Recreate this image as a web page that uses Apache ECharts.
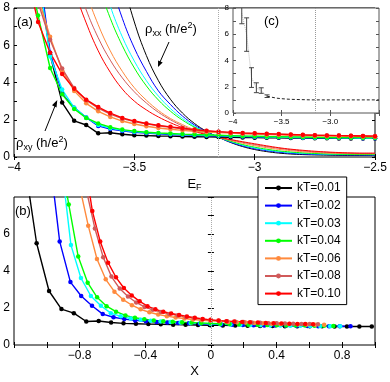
<!DOCTYPE html>
<html>
<head>
<meta charset="utf-8">
<script src="https://cdn.jsdelivr.net/npm/echarts@6/dist/echarts.min.js"></script>
<style>
html, body { margin: 0; padding: 0; background: #fff; }
#chart { width: 390px; height: 382px; }
</style>
</head>
<body>
<div id="chart"></div>
<script>
// temperatures and colours (legend order)
var kTs = ['0.01', '0.02', '0.03', '0.04', '0.06', '0.08', '0.10'];
var colors = ['#000000', '#0000ff', '#00ffff', '#00ff00', '#ff8a3d', '#d05a5a', '#ff0000'];

// E_F sample points shared by every curve of panel (a)
var efGrid = [-3.95, -3.90, -3.85, -3.80, -3.75, -3.70, -3.65, -3.60, -3.55, -3.50,
  -3.45, -3.40, -3.35, -3.30, -3.25, -3.20, -3.15, -3.10, -3.05, -3.00,
  -2.95, -2.90, -2.85, -2.80, -2.75, -2.70, -2.65, -2.60, -2.55, -2.50];

// rho_xy (h/e^2), with markers
var rhoXy01 = [14, 10, 5.5, 2.92, 1.94, 1.72, 1.27, 1.3, 1.22, 1.17, 1.15, 1.13, 1.12, 1.1, 1.09, 1.08, 1.07, 1.06, 1.05, 1.04, 1.03, 1.03, 1.02, 1.02, 1.01, 1.01, 1.0, 1.0, 1.0, 1.0];
var rhoXy02 = [16, 10.5, 5.6, 3.4, 2.65, 2.12, 1.67, 1.5, 1.4, 1.33, 1.28, 1.24, 1.21, 1.19, 1.17, 1.15, 1.13, 1.11, 1.1, 1.08, 1.07, 1.06, 1.05, 1.04, 1.03, 1.03, 1.02, 1.02, 1.01, 1.01];
var rhoXy03 = [16, 10, 5.4, 3.62, 2.65, 2.12, 1.72, 1.55, 1.43, 1.36, 1.31, 1.27, 1.24, 1.21, 1.19, 1.17, 1.15, 1.13, 1.11, 1.1, 1.08, 1.07, 1.06, 1.05, 1.04, 1.04, 1.03, 1.03, 1.02, 1.02];
var rhoXy04 = [10.5, 7.6, 4.78, 3.37, 2.58, 2.1, 1.8, 1.6, 1.47, 1.39, 1.33, 1.29, 1.26, 1.23, 1.21, 1.19, 1.17, 1.15, 1.13, 1.12, 1.1, 1.09, 1.08, 1.07, 1.06, 1.05, 1.05, 1.04, 1.04, 1.03];
var rhoXy06 = [12, 8.6, 6.45, 4.65, 3.55, 2.88, 2.45, 2.15, 1.93, 1.77, 1.65, 1.56, 1.49, 1.43, 1.38, 1.34, 1.31, 1.28, 1.25, 1.23, 1.21, 1.19, 1.17, 1.15, 1.14, 1.13, 1.12, 1.11, 1.1, 1.09];
var rhoXy08 = [12, 8.3, 6.3, 4.75, 3.7, 3.05, 2.62, 2.3, 2.06, 1.9, 1.78, 1.68, 1.6, 1.52, 1.45, 1.39, 1.35, 1.31, 1.28, 1.26, 1.24, 1.22, 1.2, 1.18, 1.17, 1.16, 1.15, 1.14, 1.13, 1.12];
var rhoXy10 = [10, 7.25, 5.6, 4.45, 3.66, 3.08, 2.68, 2.36, 2.1, 1.93, 1.8, 1.7, 1.62, 1.54, 1.47, 1.41, 1.36, 1.32, 1.29, 1.27, 1.25, 1.23, 1.21, 1.19, 1.17, 1.16, 1.15, 1.14, 1.13, 1.12];

// rho_xx (h/e^2), plain lines (null = above the plot)
var rhoXx01 = [null, null, null, null, null, null, null, 12.7, 9.6, 7.25, 5.45, 4.1, 3.1, 2.36, 1.8, 1.38, 1.06, 0.78, 0.56, 0.4, 0.29, 0.21, 0.16, 0.13, 0.11, 0.1, 0.09, 0.085, 0.08, 0.08];
var rhoXx02 = [null, null, null, null, null, null, 12.1, 9.5, 7.45, 5.85, 4.6, 3.55, 2.82, 2.2, 1.72, 1.35, 1.06, 0.8, 0.6, 0.45, 0.34, 0.26, 0.2, 0.16, 0.14, 0.125, 0.115, 0.11, 0.105, 0.1];
var rhoXx03 = [null, null, null, null, null, 12.8, 10.2, 8.1, 6.45, 5.15, 4.1, 3.27, 2.6, 2.07, 1.65, 1.32, 1.06, 0.83, 0.64, 0.49, 0.38, 0.3, 0.24, 0.2, 0.17, 0.15, 0.14, 0.13, 0.125, 0.12];
var rhoXx04 = [null, null, null, null, null, 11.6, 9.3, 7.45, 5.98, 4.78, 3.82, 3.06, 2.46, 1.98, 1.6, 1.3, 1.06, 0.85, 0.67, 0.53, 0.42, 0.33, 0.27, 0.22, 0.19, 0.17, 0.15, 0.14, 0.135, 0.13];
var rhoXx06 = [null, null, null, null, 11, 8.85, 7.1, 5.7, 4.6, 3.72, 3.05, 2.5, 2.07, 1.74, 1.46, 1.24, 1.06, 0.89, 0.74, 0.61, 0.5, 0.41, 0.34, 0.28, 0.24, 0.21, 0.19, 0.18, 0.17, 0.17];
var rhoXx08 = [null, null, null, null, 9.8, 7.9, 6.4, 5.2, 4.25, 3.5, 2.9, 2.4, 2.0, 1.67, 1.42, 1.22, 1.06, 0.92, 0.79, 0.67, 0.56, 0.47, 0.39, 0.33, 0.28, 0.25, 0.22, 0.2, 0.19, 0.19];
var rhoXx10 = [null, null, null, 11.3, 9.0, 7.2, 5.7, 4.55, 3.65, 3.0, 2.53, 2.15, 1.84, 1.58, 1.37, 1.2, 1.06, 0.94, 0.82, 0.71, 0.6, 0.5, 0.42, 0.36, 0.31, 0.27, 0.24, 0.22, 0.21, 0.21];

// panel (b): X = s_kT * (E_F - Ec), s
var ecCrit = -3.148;
var scaleB = [1.513, 1.313, 1.215, 1.152, 1.065, 1.007, 0.961];

// inset (c): error bars [E_F, low, high] and the mean curve
var barData = [[-3.91, 6.8, 9.0], [-3.86, 4.7, 7.25], [-3.81, 1.95, 3.45], [-3.76, 1.55, 2.3], [-3.71, 1.5, 1.92], [-3.65, 1.18, 1.38]];
var meanEf = [-3.91, -3.86, -3.81, -3.76, -3.71, -3.65];
var meanVal = [7.6, 6.0, 2.7, 1.9, 1.7, 1.28];
var tailEf = [-3.65, -3.60, -3.55, -3.50, -3.45, -3.40, -3.35, -3.30, -3.25, -3.20, -3.15, -3.10, -3.00, -2.90, -2.80, -2.70, -2.60, -2.50];
var tailVal = [1.28, 1.2, 1.13, 1.09, 1.06, 1.04, 1.03, 1.02, 1.01, 1.0, 1.0, 1.0, 1.0, 1.0, 1.0, 1.0, 1.0, 1.0];

var rhoXy = [rhoXy01, rhoXy02, rhoXy03, rhoXy04, rhoXy06, rhoXy08, rhoXy10];
var rhoXx = [rhoXx01, rhoXx02, rhoXx03, rhoXx04, rhoXx06, rhoXx08, rhoXx10];

var FONT = '"Liberation Sans", Arial, Helvetica, sans-serif';

function minus(v) { return String(v).replace('-', '\u2212'); }

function pairs(xs, ys) {
  var out = [];
  for (var i = 0; i < xs.length; i++) {
    if (ys[i] !== null) out.push([xs[i], ys[i]]);
  }
  return out;
}

function axis(gi, pos, min, max, interval, fmt, col, fs) {
  var primary = (pos === 'bottom' || pos === 'left');
  return {
    type: 'value', gridIndex: gi, position: pos, min: min, max: max, interval: interval,
    axisLine: { show: false },
    splitLine: { show: false },
    axisTick: { show: true, inside: true, length: 3, lineStyle: { color: col, width: 1 } },
    axisLabel: {
      show: primary, margin: pos === 'bottom' ? 5 : 4, color: '#000',
      fontSize: fs, fontFamily: FONT, formatter: fmt,
      showMinLabel: true, showMaxLabel: true
    },
    z: gi === 2 ? 4 : 0
  };
}

var evenOnly = function (v) { return (Math.round(v) % 2 === 0 && v < 8.01) ? String(v) : ''; };
var evenNo8 = function (v) { return (Math.round(v) % 2 === 0 && v < 7.99) ? String(v) : ''; };
var bLabels = function (v) {
  var r = Math.round(v * 10) / 10;
  return [-0.8, -0.4, 0, 0.4, 0.8].indexOf(r) >= 0 ? minus(r) : '';
};
var insetX = function (v) {
  if (v === -4) return '\u22124';
  if (v === -2.5) return '';
  return '\u2212' + Math.abs(v).toFixed(1);
};

var series = [];

// panel (a) rho_xx
for (var i = 0; i < kTs.length; i++) {
  series.push({
    name: 'xx' + kTs[i], type: 'line', xAxisIndex: 0, yAxisIndex: 0,
    data: pairs(efGrid, rhoXx[i]), showSymbol: false, smooth: 0.4,
    lineStyle: { color: colors[i], width: 1 }, itemStyle: { color: colors[i] },
    clip: true, silent: true, z: 2
  });
}
// panel (a) rho_xy
for (var i = 0; i < kTs.length; i++) {
  series.push({
    name: 'xy' + kTs[i], type: 'line', xAxisIndex: 0, yAxisIndex: 0,
    data: pairs(efGrid, rhoXy[i]), symbol: 'circle', symbolSize: 4.5, showAllSymbol: true,
    lineStyle: { color: colors[i], width: 1.4 }, itemStyle: { color: colors[i] },
    clip: true, silent: true, z: 3
  });
}
// dotted critical lines
series.push({
  type: 'line', xAxisIndex: 0, yAxisIndex: 0, data: [], silent: true,
  markLine: { symbol: 'none', silent: true, label: { show: false },
    lineStyle: { color: '#aaa', type: 'dotted', width: 1 }, data: [{ xAxis: -3.152 }] }
});

// panel (b)
for (var i = 0; i < kTs.length; i++) {
  var xs = efGrid.map(function (e) { return scaleB[i] * (e - ecCrit); });
  series.push({
    name: 'kT=' + kTs[i], type: 'line', xAxisIndex: 2, yAxisIndex: 2,
    data: pairs(xs, rhoXy[i]), symbol: 'circle', symbolSize: 4.5, showAllSymbol: true,
    lineStyle: { color: colors[i], width: 1.4 }, itemStyle: { color: colors[i] },
    clip: true, silent: true, z: 3
  });
}
series.push({
  type: 'line', xAxisIndex: 2, yAxisIndex: 2, data: [], silent: true,
  markLine: { symbol: 'none', silent: true, label: { show: false },
    lineStyle: { color: '#aaa', type: 'dotted', width: 1 }, data: [{ xAxis: 0 }] }
});

// inset (c)
series.push({
  type: 'line', xAxisIndex: 4, yAxisIndex: 4, data: pairs(meanEf, meanVal),
  showSymbol: false, lineStyle: { color: '#bbb', type: 'dotted', width: 1 }, silent: true, z: 5
});
series.push({
  type: 'line', xAxisIndex: 4, yAxisIndex: 4, data: pairs(tailEf, tailVal),
  showSymbol: false, lineStyle: { color: '#222', type: [3, 2], width: 1 }, silent: true, z: 5,
  markLine: { symbol: 'none', silent: true, label: { show: false },
    lineStyle: { color: '#999', type: 'dotted', width: 1 }, data: [{ xAxis: -3.152 }] }
});
series.push({
  type: 'custom', xAxisIndex: 4, yAxisIndex: 4, data: barData, silent: true, z: 6,
  renderItem: function (params, api) {
    var x = api.value(0), lo = api.value(1), hi = api.value(2);
    var top = api.coord([x, Math.min(hi, 8)]);
    var bot = api.coord([x, lo]);
    var w = 2.5;
    var kids = [
      { type: 'line', shape: { x1: top[0], y1: top[1], x2: bot[0], y2: bot[1] }, style: { stroke: '#444', lineWidth: 1 } },
      { type: 'line', shape: { x1: bot[0] - w, y1: bot[1], x2: bot[0] + w, y2: bot[1] }, style: { stroke: '#444', lineWidth: 1 } }
    ];
    if (hi <= 8) {
      kids.push({ type: 'line', shape: { x1: top[0] - w, y1: top[1], x2: top[0] + w, y2: top[1] }, style: { stroke: '#444', lineWidth: 1 } });
    }
    return { type: 'group', children: kids };
  }
});

var legendNames = kTs.map(function (k) { return 'kT=' + k; });

var option = {
  animation: false,
  backgroundColor: '#fff',
  textStyle: { fontFamily: FONT },
  grid: [
    { left: 14, top: 8, width: 361, height: 149, show: true, borderColor: '#000', borderWidth: 1 },
    { left: 14, top: 197, width: 361, height: 148, show: true, borderColor: '#000', borderWidth: 1 },
    { left: 233, top: 8, width: 146, height: 105, show: true, borderColor: '#555', borderWidth: 1, backgroundColor: '#fff', z: 3 }
  ],
  xAxis: [
    Object.assign(axis(0, 'bottom', -4, -2.5, 0.5, minus, '#000', 12), {
      name: 'E{s|F}', nameLocation: 'middle', nameGap: 19,
      nameTextStyle: { fontSize: 13, fontFamily: FONT, color: '#000', lineHeight: 16,
        rich: { s: { fontSize: 9, verticalAlign: 'bottom', lineHeight: 9, fontFamily: FONT, color: '#000' } } }
    }),
    axis(0, 'top', -4, -2.5, 0.5, minus, '#000', 12),
    Object.assign(axis(1, 'bottom', -1.2, 1.0, 0.2, bLabels, '#000', 12), {
      name: 'X', nameLocation: 'middle', nameGap: 20,
      nameTextStyle: { fontSize: 13, fontFamily: FONT, color: '#000' }
    }),
    axis(1, 'top', -1.2, 1.0, 0.2, bLabels, '#000', 12),
    axis(2, 'bottom', -4, -2.5, 0.5, insetX, '#555', 8),
    axis(2, 'top', -4, -2.5, 0.5, insetX, '#555', 8)
  ],
  yAxis: [
    axis(0, 'left', 0, 8, 1, evenOnly, '#000', 12),
    axis(0, 'right', 0, 8, 1, evenOnly, '#000', 12),
    axis(1, 'left', 0, 8, 1, evenNo8, '#000', 12),
    axis(1, 'right', 0, 8, 1, evenNo8, '#000', 12),
    axis(2, 'left', 0, 8, 1, evenOnly, '#555', 8),
    axis(2, 'right', 0, 8, 1, evenOnly, '#555', 8)
  ],
  legend: {
    data: legendNames, orient: 'vertical', left: 258, top: 177,
    itemWidth: 27, itemHeight: 6, itemGap: 5.6,
    padding: [5, 6, 5, 6], backgroundColor: '#fff', borderColor: '#000', borderWidth: 1,
    textStyle: { fontSize: 12, fontFamily: FONT, color: '#000' },
    selectedMode: false, z: 6
  },
  graphic: [
    { type: 'text', x: 17, y: 22, z: 10, style: { text: '(a)', font: '13px ' + FONT, fill: '#000', textVerticalAlign: 'middle' } },
    { type: 'text', x: 15, y: 211, z: 10, style: { text: '(b)', font: '13px ' + FONT, fill: '#000', textVerticalAlign: 'middle' } },
    { type: 'text', x: 264, y: 21, z: 10, style: { text: '(c)', font: '13px ' + FONT, fill: '#000', textVerticalAlign: 'middle' } },
    { type: 'text', x: 145, y: 21, z: 10, style: {
        text: '\u03c1{s|xx} (h/e{p|2})', fontSize: 13, fontFamily: FONT, fill: '#000', lineHeight: 17,
        rich: { s: { fontSize: 9, verticalAlign: 'bottom', lineHeight: 9 }, p: { fontSize: 9, verticalAlign: 'top', lineHeight: 9 } } } },
    { type: 'text', x: 16, y: 135, z: 10, style: {
        text: '\u03c1{s|xy} (h/e{p|2})', fontSize: 13, fontFamily: FONT, fill: '#000', lineHeight: 17,
        rich: { s: { fontSize: 9, verticalAlign: 'bottom', lineHeight: 9 }, p: { fontSize: 9, verticalAlign: 'top', lineHeight: 9 } } } },
    { type: 'line', z: 10, shape: { x1: 169, y1: 42, x2: 160, y2: 62 }, style: { stroke: '#000', lineWidth: 1 } },
    { type: 'polygon', z: 10, shape: { points: [[158, 67], [162.7, 62.5], [158.1, 60.5]] }, style: { fill: '#000' } },
    { type: 'line', z: 10, shape: { x1: 45, y1: 131, x2: 55, y2: 106 }, style: { stroke: '#000', lineWidth: 1 } },
    { type: 'polygon', z: 10, shape: { points: [[57.3, 100], [56.5, 107.5], [52, 105.2]] }, style: { fill: '#000' } }
  ],
  series: series
};

var chart = echarts.init(document.getElementById('chart'), null, { renderer: 'canvas' });
chart.setOption(option);
</script>
</body>
</html>
